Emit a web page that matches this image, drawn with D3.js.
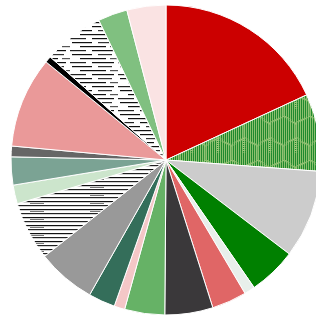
<!DOCTYPE html>
<html>
<head>
<meta charset="utf-8">
<script src="https://cdn.jsdelivr.net/npm/d3@7"></script>
<style>
  html, body { margin: 0; padding: 0; background: #fff; overflow: hidden; }
  svg { display: block; }
</style>
</head>
<body>
<svg id="chart"></svg>
<script>
// slices clockwise from 12 o'clock
const names = ['a','b','c','d','e','f','g','h','i','j','k','l','m','n','o','p','q','r','s','t'];
const values = [65, 29, 33, 18, 4, 13, 18, 15, 4, 10, 22, 22, 7, 10.5, 4, 34, 2.4, 22.6, 11, 14.6];
const fills = ['#cc0000', 'url(#hex)', '#cccccc', '#008000', '#e8efeb', '#e06666', '#3a383a',
               '#66b266', '#f4c7c7', '#346e5a', '#999999', 'url(#lines1)', '#cce5cc', '#7ba394',
               '#666666', '#ea9999', '#000000', 'url(#lines2)', '#80c080', '#fae3e3'];

const W = 316, H = 318;
const cx = 166, cy = 160, R = 155;

const svg = d3.select('#chart').attr('width', W).attr('height', H);
const defs = svg.append('defs');

// green hexagon pattern with pale stripes
const hex = defs.append('pattern')
    .attr('id', 'hex')
    .attr('patternUnits', 'userSpaceOnUse')
    .attr('width', 26).attr('height', 44);
hex.append('rect').attr('width', 26).attr('height', 44).attr('fill', '#1f8a2e');
for (let x = 0; x < 26; x += 2) {
    hex.append('rect').attr('x', x).attr('y', 0).attr('width', 1).attr('height', 44)
        .attr('fill', '#d6e39a').attr('opacity', 0.6);
}
hex.append('path')
    .attr('d', 'M13,0 L26,7.5 L26,22 L13,29.5 L0,22 L0,7.5 Z M13,29.5 L13,44 M0,22 L0,36.5 M26,22 L26,36.5')
    .attr('fill', 'none').attr('stroke', '#9cc77a').attr('stroke-width', 2.5)
    .attr('stroke-dasharray', '1 1');

// horizontal broken lines (lower left)
const l1 = defs.append('pattern')
    .attr('id', 'lines1')
    .attr('patternUnits', 'userSpaceOnUse')
    .attr('width', 60).attr('height', 8);
l1.append('rect').attr('width', 60).attr('height', 8).attr('fill', '#fff');
l1.append('rect').attr('x', 0).attr('y', 1).attr('width', 60).attr('height', 1.2).attr('fill', '#111');
l1.append('rect').attr('x', 0).attr('y', 5).attr('width', 60).attr('height', 1.2).attr('fill', '#222');
l1.append('rect').attr('x', 44).attr('y', 3).attr('width', 14).attr('height', 1).attr('fill', '#777');

// sparse broken lines (upper left)
const l2 = defs.append('pattern')
    .attr('id', 'lines2')
    .attr('patternUnits', 'userSpaceOnUse')
    .attr('width', 48).attr('height', 12);
l2.append('rect').attr('width', 48).attr('height', 12).attr('fill', '#fff');
l2.append('rect').attr('x', 2).attr('y', 2).attr('width', 20).attr('height', 1.2).attr('fill', '#111');
l2.append('rect').attr('x', 28).attr('y', 2).attr('width', 14).attr('height', 1.2).attr('fill', '#333');
l2.append('rect').attr('x', 10).attr('y', 6).attr('width', 26).attr('height', 1.2).attr('fill', '#111');
l2.append('rect').attr('x', 40).attr('y', 6).attr('width', 8).attr('height', 1.2).attr('fill', '#555');
l2.append('rect').attr('x', 0).attr('y', 10).attr('width', 16).attr('height', 1.2).attr('fill', '#222');
l2.append('rect').attr('x', 22).attr('y', 10).attr('width', 22).attr('height', 1.2).attr('fill', '#111');

const pie = d3.pie().sort(null).value(d => d);
const arc = d3.arc().innerRadius(0).outerRadius(R);

const g = svg.append('g').attr('transform', 'translate(' + cx + ',' + cy + ')');

g.selectAll('path.slice')
    .data(pie(values))
    .join('path')
    .attr('class', 'slice')
    .attr('d', arc)
    .attr('fill', (d, i) => fills[i])
    .attr('stroke', '#fff')
    .attr('stroke-width', 1);
</script>
</body>
</html>
